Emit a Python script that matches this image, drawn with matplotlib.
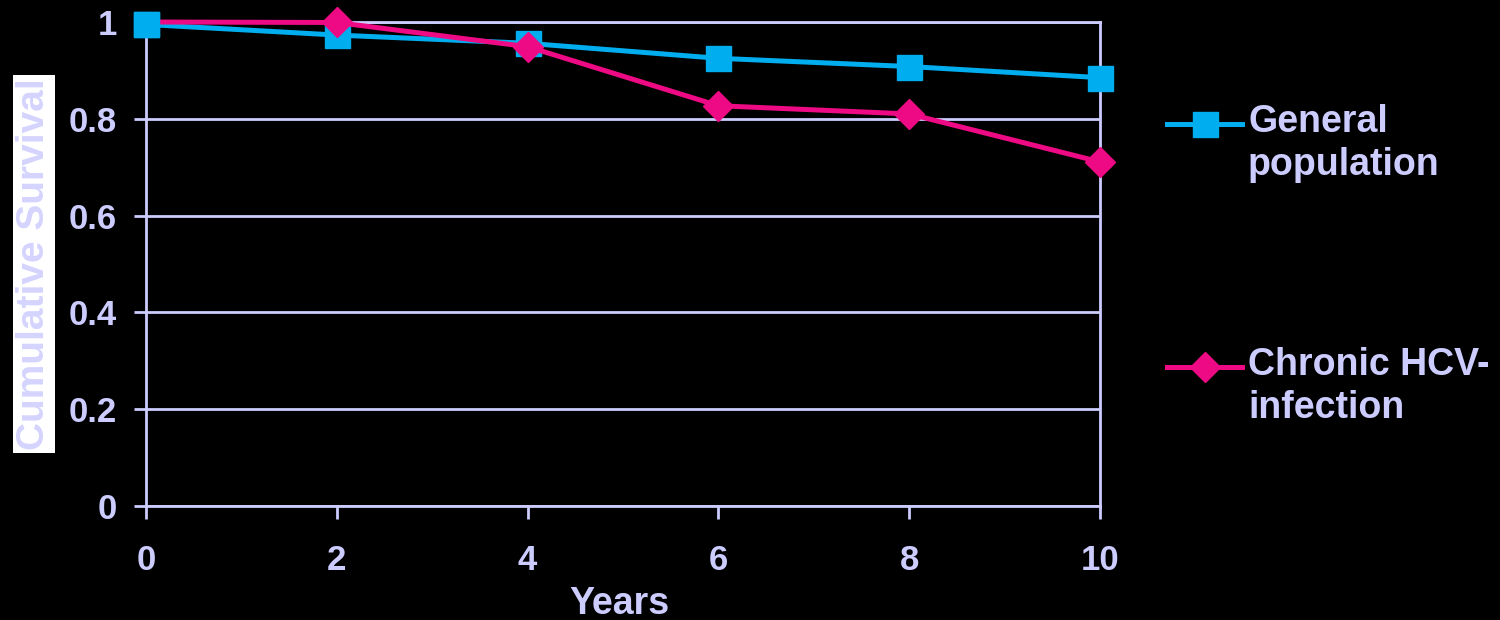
import matplotlib
matplotlib.use("Agg")
import matplotlib.pyplot as plt
from matplotlib.lines import Line2D

years = [0, 2, 4, 6, 8, 10]
general_population = [0.995, 0.973, 0.956, 0.925, 0.908, 0.885]
chronic_hcv = [1.0, 0.999, 0.949, 0.827, 0.810, 0.711]
x_ticks = [0, 2, 4, 6, 8, 10]
y_ticks = [0, 0.2, 0.4, 0.6, 0.8, 1.0]
y_tick_labels = ["0", "0.2", "0.4", "0.6", "0.8", "1"]
series_labels = ["General\npopulation", "Chronic HCV-\ninfection"]

LAV = "#CCCCFF"
BLUE = "#00AEEF"
PINK = "#EE0A84"
plt.rcParams['font.family'] = ['Liberation Sans', 'DejaVu Sans']
plt.rcParams['font.weight'] = 'bold'

fig = plt.figure(figsize=(15, 6.2), dpi=100, facecolor="black")
ax = fig.add_axes([146/1500, 114/620, (1100-146)/1500, (506-22)/620])
ax.set_facecolor("black")

LW = 3.6
ax.plot(years, general_population, color=BLUE, lw=LW, marker="s", ms=18,
        mec=BLUE, mfc=BLUE, zorder=3, clip_on=False)
ax.plot(years, chronic_hcv, color=PINK, lw=LW, marker="D", ms=15,
        mec=PINK, mfc=PINK, markevery=[1, 2, 3, 4, 5], zorder=4, clip_on=False)
ax.plot(years[:1], general_population[:1], color=BLUE, marker="s", ms=18,
        ls="none", zorder=5, clip_on=False)

ax.set_xlim(0, 10)
ax.set_ylim(0, 1)
ax.set_xticks(x_ticks)
ax.set_yticks(y_ticks)
ax.set_yticklabels(y_tick_labels)
ax.grid(axis="y", color=LAV, lw=2.0, zorder=1)
for s in ax.spines.values():
    s.set_color(LAV)
    s.set_linewidth(2.0)
ax.tick_params(colors=LAV, labelsize=25, width=2.0, length=9)
ax.tick_params(axis="x", pad=18)
ax.tick_params(axis="y", pad=12)
for lab in ax.get_xticklabels() + ax.get_yticklabels():
    lab.set_fontweight("bold")
ax.set_xlabel("Years", color=LAV, fontsize=27, fontweight="bold", labelpad=0)
ax.xaxis.set_label_coords(0.496, -0.166)

fig.text(34/1500, 1 - 264/620, "Cumulative Survival", rotation=90, ha="center",
         va="center", color="#D4D4FF", fontsize=28, fontweight="bold",
         bbox=dict(facecolor="white", edgecolor="none", pad=2))

# legend
entries = [(BLUE, "s", 18, 124), (PINK, "D", 15, 367)]
for (c, m, ms, yc), lab in zip(entries, series_labels):
    fy = 1 - yc/620
    fig.add_artist(Line2D([1167/1500, 1242/1500], [fy, fy], color=c, lw=LW,
                          transform=fig.transFigure))
    fig.add_artist(Line2D([1205/1500], [fy], color=c, marker=m, ms=ms,
                          ls="none", transform=fig.transFigure))
    fig.text(1248/1500, fy + 20/620, lab, color=LAV, fontsize=27,
             fontweight="bold", ha="left", va="top", linespacing=1.25)

fig.savefig("out.png", dpi=100, facecolor="black")
